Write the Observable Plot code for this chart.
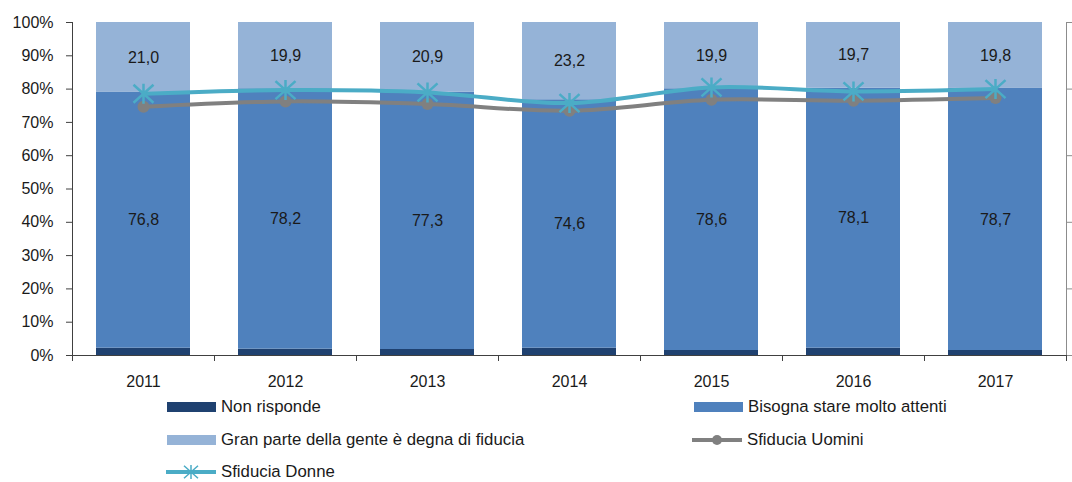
<!DOCTYPE html>
<html><head><meta charset="utf-8">
<script src="https://cdn.jsdelivr.net/npm/d3@7"></script>
<script src="https://cdn.jsdelivr.net/npm/@observablehq/plot@0.6"></script>
<style>
body{margin:0;background:#fff;font-family:"Liberation Sans",Arial,sans-serif;}
#wrap{position:relative;width:1072px;height:482px;overflow:hidden;}
.leg{position:absolute;height:20px;font-size:16.8px;color:#1a1a1a;display:flex;align-items:center;white-space:nowrap;}
.leg .sw{display:inline-block;width:49px;height:10px;margin-right:5px;}
.leg svg{margin-right:5px;}
</style></head><body><div id="wrap"></div>
<script>
const years = ["2011","2012","2013","2014","2015","2016","2017"];
const nonRisponde = [2.2,1.9,1.8,2.2,1.5,2.2,1.5];
const bisogna = [76.8,78.2,77.3,74.6,78.6,78.1,78.7];
const granParte = [21.0,19.9,20.9,23.2,19.9,19.7,19.8];
const sfiduciaUomini = [74.7,76.3,75.5,73.5,76.8,76.5,77.3];
const sfiduciaDonne = [78.6,79.7,79.0,75.8,80.5,79.3,80.0];
const yTicks = [0,10,20,30,40,50,60,70,80,90,100];
const rightTicks = [0,20,40,60,80,100];
const barSeries = ["Non risponde","Bisogna stare molto attenti","Gran parte della gente è degna di fiducia"];
const barColors = ["#1f4170","#4f81bd","#95b3d7"];
const lineSeries = ["Sfiducia Uomini","Sfiducia Donne"];
const lineColors = ["#808080","#4bacc6"];

const W = 1072, H = 390, ML = 72, MR = 6, MT = 22, MB = 35;
const half = (W - ML - MR) / years.length / 2;

const barValues = [nonRisponde, bisogna, granParte];
const bars = [];
barSeries.forEach((s, si) => years.forEach((y, i) => bars.push({year: y, series: s, value: barValues[si][i]})));
const uomini = years.map((y, i) => ({year: y, value: sfiduciaUomini[i]}));
const donne = years.map((y, i) => ({year: y, value: sfiduciaDonne[i]}));
const fmt = v => d3.format(".1f")(v).replace(".", ",");

const star = {draw(ctx, size){
  const r = Math.sqrt(size / Math.PI);
  ctx.moveTo(0, -r); ctx.lineTo(0, r);
  ctx.moveTo(-r, -r*0.9); ctx.lineTo(r, r*0.9);
  ctx.moveTo(-r, r*0.9); ctx.lineTo(r, -r*0.9);
}};

const chart = Plot.plot({
  width: W, height: H,
  marginLeft: ML, marginRight: MR, marginTop: MT, marginBottom: MB,
  style: {fontFamily: '"Liberation Sans", Arial, sans-serif', fontSize: "16px", color: "#1a1a1a", background: "white"},
  x: {domain: years, paddingInner: 0.34, paddingOuter: 0.17, label: null},
  y: {domain: [0, 100], label: null},
  color: {domain: barSeries, range: barColors},
  marks: [
    Plot.barY(bars, {x: "year", y: "value", fill: "series", z: "series"}),
    Plot.text(bars, Plot.stackY({x: "year", y: "value", z: "series",
      text: d => d.series === barSeries[0] ? null : fmt(d.value), fill: "#1a1a1a"})),
    Plot.ruleY([0], {stroke: "#404040"}),
    Plot.ruleX([years[0]], {dx: -half, y1: 0, y2: 100, stroke: "#404040"}),
    Plot.ruleX([years[years.length-1]], {dx: half, y1: 0, y2: 100, stroke: "#8c8c8c"}),
    Plot.ruleX(years, {x: d => d, dx: -half, y1: 0, y2: -1.8, stroke: "#404040"}),
    Plot.ruleX([years[years.length-1]], {dx: half, y1: 0, y2: -1.8, stroke: "#404040"}),
    Plot.axisY({anchor: "left", label: null, ticks: yTicks, tickFormat: d => d + "%", tickSize: 6, tickPadding: 13, stroke: "#404040"}),
    Plot.axisY({anchor: "right", label: null, ticks: rightTicks, tickFormat: () => "", tickSize: 6, stroke: "#8c8c8c"}),
    Plot.axisX({label: null, tickSize: 0, tickPadding: 20}),
    Plot.line(uomini, {x: "year", y: "value", stroke: lineColors[0], strokeWidth: 4, curve: "catmull-rom"}),
    Plot.dot(uomini, {x: "year", y: "value", r: 6, fill: lineColors[0], stroke: "none"}),
    Plot.line(donne, {x: "year", y: "value", stroke: lineColors[1], strokeWidth: 4, curve: "catmull-rom"}),
    Plot.dot(donne, {x: "year", y: "value", r: 10, symbol: star, fill: "none", stroke: lineColors[1], strokeWidth: 2.5})
  ]
});
const wrap = document.getElementById("wrap");
chart.style.position = "absolute"; chart.style.left = "0"; chart.style.top = "0";
wrap.appendChild(chart);

function starPath(r){ return `M0,${-r}L0,${r}M${-r},${-r*0.9}L${r},${r*0.9}M${-r},${r*0.9}L${r},${-r*0.9}`; }
const legendItems = [
  {label: barSeries[0], type: "bar", color: barColors[0], x: 167, y: 407},
  {label: barSeries[1], type: "bar", color: barColors[1], x: 694, y: 407},
  {label: barSeries[2], type: "bar", color: barColors[2], x: 167, y: 440},
  {label: lineSeries[0], type: "dot", color: lineColors[0], x: 692, y: 440},
  {label: lineSeries[1], type: "star", color: lineColors[1], x: 166, y: 472}
];
legendItems.forEach(it => {
  const d = document.createElement("div");
  d.className = "leg";
  d.style.left = it.x + "px"; d.style.top = (it.y - 10) + "px";
  let sw;
  if (it.type === "bar") sw = `<span class="sw" style="background:${it.color}"></span>`;
  else if (it.type === "dot") sw = `<svg width="50" height="20"><line x1="0" y1="10" x2="50" y2="10" stroke="${it.color}" stroke-width="4"/><circle cx="25" cy="10" r="5" fill="${it.color}"/></svg>`;
  else sw = `<svg width="50" height="20"><line x1="0" y1="10" x2="50" y2="10" stroke="${it.color}" stroke-width="4"/><path transform="translate(25,10)" d="${starPath(7)}" stroke="${it.color}" stroke-width="1.5" fill="none"/></svg>`;
  d.innerHTML = sw + `<span>${it.label}</span>`;
  wrap.appendChild(d);
});
</script></body></html>
